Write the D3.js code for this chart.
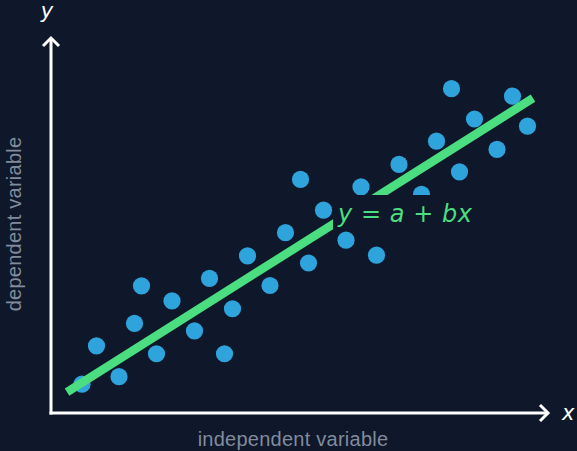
<!DOCTYPE html>
<html>
<head>
<meta charset="utf-8">
<script src="https://cdn.jsdelivr.net/npm/d3@7"></script>
<style>
  html, body { margin: 0; padding: 0; background: #0f172a; }
  svg { display: block; }
</style>
</head>
<body>
<div id="canvas"></div>
<script>
"use strict"

/***********************************
 DATA
************************************/
let xValues = [0.62, 0.91, 1.36, 1.67, 1.81, 2.11, 2.42, 2.87, 3.17, 3.47,
               3.63, 3.93, 4.38, 4.69, 4.99, 5.15, 5.45, 5.90, 6.20, 6.51,
               6.96, 7.41, 7.71, 8.01, 8.17, 8.47, 8.92, 9.23, 9.53];
let yValues = [0.77, 1.79, 0.97, 2.39, 3.39, 1.58, 2.99, 2.19, 3.59, 1.58,
               2.78, 4.19, 3.40, 4.81, 6.23, 4.00, 5.41, 4.61, 6.03, 4.21,
               6.63, 5.83, 7.25, 8.65, 6.43, 7.84, 7.03, 8.45, 7.65];

// fitted line y = a + b x, drawn between these x values
let fitA = 0.29;
let fitB = 0.841;
let fitRange = [0.32, 9.64];

/***********************************
 CONFIGURATION
************************************/
let svgWidth = 577;
let svgHeight = 451;
let originX = 51;
let originY = 413;
let dotRadius = 8.6;
let bg = "#0f172a";
let dotColor = "#2fa3dc";
let lineColor = "#4ade80";
let labelColor = "#818b9d";

let svg = d3.select("#canvas")
    .append("svg")
    .attr("width", svgWidth)
    .attr("height", svgHeight);

svg.append("rect")
    .attr("width", svgWidth)
    .attr("height", svgHeight)
    .attr("fill", bg);

/***********************************
 SCALES
************************************/
let xScale = d3.scaleLinear()
    .domain([0, 10])
    .range([originX, originX + 500]);

let yScale = d3.scaleLinear()
    .domain([0, 10])
    .range([originY, originY - 375]);

/***********************************
 DOTS
************************************/
let points = xValues.map((x, i) => ({ x: x, y: yValues[i] }));

svg.append("g")
    .selectAll("circle")
    .data(points)
    .join("circle")
    .attr("cx", d => xScale(d.x))
    .attr("cy", d => yScale(d.y))
    .attr("r", dotRadius)
    .attr("fill", dotColor);

/***********************************
 FIT LINE
************************************/
let fitLine = d3.line()
    .x(d => xScale(d))
    .y(d => yScale(fitA + fitB * d));

svg.append("path")
    .datum(fitRange)
    .attr("d", fitLine)
    .attr("fill", "none")
    .attr("stroke", lineColor)
    .attr("stroke-width", 8.5);

/***********************************
 EQUATION LABEL (with background box)
************************************/
let eqX = 338;
let eqY = 222;

svg.append("rect")
    .attr("x", 333)
    .attr("y", 195)
    .attr("width", 145)
    .attr("height", 34)
    .attr("fill", bg);

let eq = svg.append("text")
    .attr("x", eqX)
    .attr("y", eqY)
    .attr("fill", lineColor)
    .attr("font-family", "DejaVu Sans")
    .attr("font-size", 24)
    .attr("textLength", 134)
    .attr("lengthAdjust", "spacing");

let eqParts = [
    { t: "y", italic: true },
    { t: " = ", italic: false },
    { t: "a", italic: true },
    { t: " + ", italic: false },
    { t: "bx", italic: true }
];

eq.selectAll("tspan")
    .data(eqParts)
    .join("tspan")
    .attr("font-style", d => d.italic ? "italic" : "normal")
    .style("white-space", "pre")
    .text(d => d.t);

/***********************************
 AXES
************************************/
let axisColor = "#ffffff";

// y axis
svg.append("line")
    .attr("x1", originX).attr("y1", originY + 1.5)
    .attr("x2", originX).attr("y2", 38)
    .attr("stroke", axisColor)
    .attr("stroke-width", 3);

svg.append("path")
    .attr("d", `M${originX - 8},${46} L${originX},${38} L${originX + 8},${46}`)
    .attr("fill", "none")
    .attr("stroke", axisColor)
    .attr("stroke-width", 3);

// x axis
svg.append("line")
    .attr("x1", originX - 1.5).attr("y1", originY)
    .attr("x2", 548).attr("y2", originY)
    .attr("stroke", axisColor)
    .attr("stroke-width", 3);

svg.append("path")
    .attr("d", `M${540},${originY - 8} L${548},${originY} L${540},${originY + 8}`)
    .attr("fill", "none")
    .attr("stroke", axisColor)
    .attr("stroke-width", 3);

// axis letters
svg.append("text")
    .attr("x", 47)
    .attr("y", 18)
    .attr("text-anchor", "middle")
    .attr("fill", axisColor)
    .attr("font-family", "DejaVu Sans")
    .attr("font-style", "italic")
    .attr("font-size", 21)
    .text("y");

svg.append("text")
    .attr("x", 562)
    .attr("y", 420)
    .attr("fill", axisColor)
    .attr("font-family", "DejaVu Sans")
    .attr("font-style", "italic")
    .attr("font-size", 21)
    .text("x");

/***********************************
 AXIS LABELS
************************************/
svg.append("text")
    .attr("x", 293)
    .attr("y", 446)
    .attr("text-anchor", "middle")
    .attr("fill", labelColor)
    .attr("font-family", "Liberation Sans")
    .attr("font-size", 20)
    .attr("letter-spacing", 0.25)
    .text("independent variable");

svg.append("text")
    .attr("transform", `translate(21, 224) rotate(-90)`)
    .attr("text-anchor", "middle")
    .attr("fill", labelColor)
    .attr("font-family", "Liberation Sans")
    .attr("font-size", 20)
    .attr("letter-spacing", 0.25)
    .text("dependent variable");
</script>
</body>
</html>
